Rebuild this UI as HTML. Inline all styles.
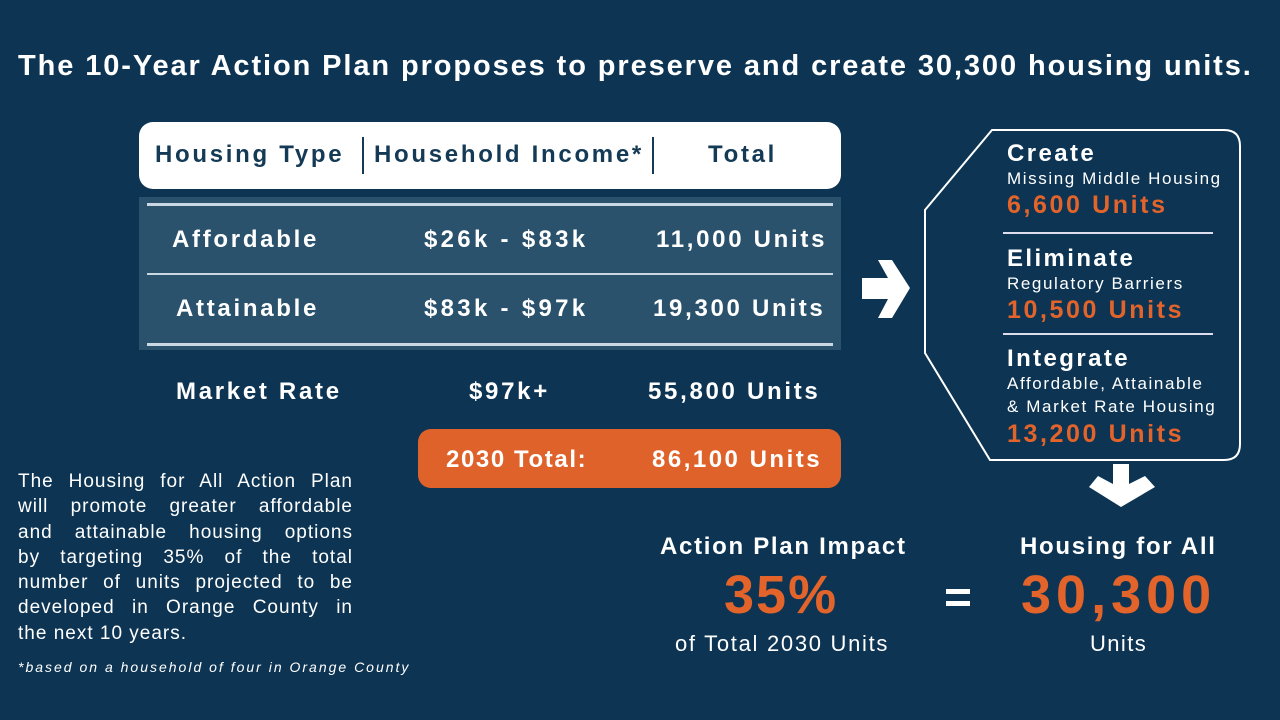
<!DOCTYPE html>
<html><head><meta charset="utf-8"><style>
body{margin:0;width:1280px;height:720px;background:#0d3553;font-family:"Liberation Sans",sans-serif;color:#fff;position:relative;overflow:hidden}
.a{position:absolute;white-space:nowrap}
.b{font-weight:bold}
.t{letter-spacing:2.7px}
.o{color:#e3642b}
.p div{text-align:justify;text-align-last:justify;width:335px;height:25.3px}
</style></head><body>
<div class="a b" style="left:18px;top:50px;font-size:29px;letter-spacing:1.9px">The 10-Year Action Plan proposes to preserve and create 30,300 housing units.</div>

<div class="a" style="left:139px;top:122px;width:702px;height:67px;background:#fff;border-radius:14px"></div>
<div class="a b t" style="left:155px;top:141px;font-size:24px;color:#143a55">Housing Type</div>
<div class="a" style="left:362px;top:137px;width:2px;height:37px;background:#143a55"></div>
<div class="a b t" style="left:374px;top:141px;font-size:24px;color:#143a55">Household Income*</div>
<div class="a" style="left:652px;top:137px;width:2px;height:37px;background:#143a55"></div>
<div class="a b t" style="left:708px;top:141px;font-size:24px;color:#143a55">Total</div>

<div class="a" style="left:139px;top:197px;width:702px;height:153px;background:#2a526c"></div>
<div class="a" style="left:147px;top:203px;width:686px;height:3px;background:#c9d8e3"></div>
<div class="a" style="left:147px;top:273px;width:686px;height:2px;background:#c9d8e3"></div>
<div class="a" style="left:147px;top:343px;width:686px;height:3px;background:#c9d8e3"></div>
<div class="a b t" style="left:172px;top:226px;font-size:24px">Affordable</div>
<div class="a b t" style="left:424px;top:226px;font-size:24px;letter-spacing:3.3px">$26k - $83k</div>
<div class="a b t" style="left:656px;top:226px;font-size:24px">11,000 Units</div>
<div class="a b t" style="left:176px;top:295px;font-size:24px">Attainable</div>
<div class="a b t" style="left:424px;top:295px;font-size:24px;letter-spacing:3.3px">$83k - $97k</div>
<div class="a b t" style="left:653px;top:295px;font-size:24px">19,300 Units</div>
<div class="a b t" style="left:176px;top:378px;font-size:24px">Market Rate</div>
<div class="a b t" style="left:469px;top:378px;font-size:24px">$97k+</div>
<div class="a b t" style="left:648px;top:378px;font-size:24px">55,800 Units</div>
<div class="a" style="left:418px;top:429px;width:423px;height:59px;background:#e0622b;border-radius:13px"></div>
<div class="a b t" style="left:446px;top:446px;font-size:24px;letter-spacing:1.6px">2030 Total:</div>
<div class="a b t" style="left:652px;top:446px;font-size:24px;letter-spacing:2.5px">86,100 Units</div>

<svg class="a" style="left:0;top:0" width="1280" height="720">
<path d="M862 278 H888 L878 260 H892 L910 288 L892 318 H878 L888 299 H862 Z" fill="#fff"/>
<path d="M992 130 H1224 Q1240 130 1240 146 V444 Q1240 460 1224 460 H990 L925 353 V210 Z" fill="none" stroke="#fff" stroke-width="2"/>
<line x1="1003" y1="233" x2="1213" y2="233" stroke="#dde" stroke-width="2"/>
<line x1="1003" y1="334" x2="1213" y2="334" stroke="#dde" stroke-width="2"/>
<path d="M1113 464 H1129 V484 L1145 476 L1155 487 L1121 507 L1089 487 L1098 476 L1113 484 Z" fill="#fff"/>
<rect x="946" y="589" width="24" height="5" fill="#fff"/><rect x="946" y="601" width="24" height="5" fill="#fff"/>
</svg>

<div class="a b" style="left:1007px;top:140px;font-size:24px;letter-spacing:2.4px">Create</div>
<div class="a" style="left:1007px;top:169px;font-size:17px;letter-spacing:1.6px">Missing Middle Housing</div>
<div class="a b o" style="left:1007px;top:191px;font-size:25px;letter-spacing:2.6px">6,600 Units</div>
<div class="a b" style="left:1007px;top:245px;font-size:24px;letter-spacing:2.4px">Eliminate</div>
<div class="a" style="left:1007px;top:274px;font-size:17px;letter-spacing:1.6px">Regulatory Barriers</div>
<div class="a b o" style="left:1007px;top:296px;font-size:25px;letter-spacing:2.6px">10,500 Units</div>
<div class="a b" style="left:1007px;top:345px;font-size:24px;letter-spacing:2.4px">Integrate</div>
<div class="a" style="left:1007px;top:374px;font-size:17px;letter-spacing:1.6px">Affordable, Attainable</div>
<div class="a" style="left:1007px;top:397px;font-size:17px;letter-spacing:1.6px">&amp; Market Rate Housing</div>
<div class="a b o" style="left:1007px;top:420px;font-size:25px;letter-spacing:2.6px">13,200 Units</div>

<div class="a p" style="left:18px;top:469px;font-size:19px;line-height:25.3px;letter-spacing:1px">
<div>The Housing for All Action Plan</div>
<div>will promote greater affordable</div>
<div>and attainable housing options</div>
<div>by targeting 35% of the total</div>
<div>number of units projected to be</div>
<div>developed in Orange County in</div>
<div style="text-align-last:left">the next 10 years.</div>
</div>
<div class="a" style="left:18px;top:659px;font-size:14px;font-style:italic;letter-spacing:2px">*based on a household of four in Orange County</div>

<div class="a b" style="left:660px;top:533px;font-size:24px;letter-spacing:1.7px">Action Plan Impact</div>
<div class="a b o" style="left:724px;top:564px;font-size:54px;letter-spacing:2px">35%</div>
<div class="a" style="left:675px;top:631px;font-size:22px;letter-spacing:1.7px">of Total 2030 Units</div>
<div class="a b" style="left:1020px;top:533px;font-size:24px;letter-spacing:1.7px">Housing for All</div>
<div class="a b o" style="left:1021px;top:564px;font-size:54px;letter-spacing:5px">30,300</div>
<div class="a" style="left:1090px;top:631px;font-size:22px;letter-spacing:1.4px">Units</div>
</body></html>
